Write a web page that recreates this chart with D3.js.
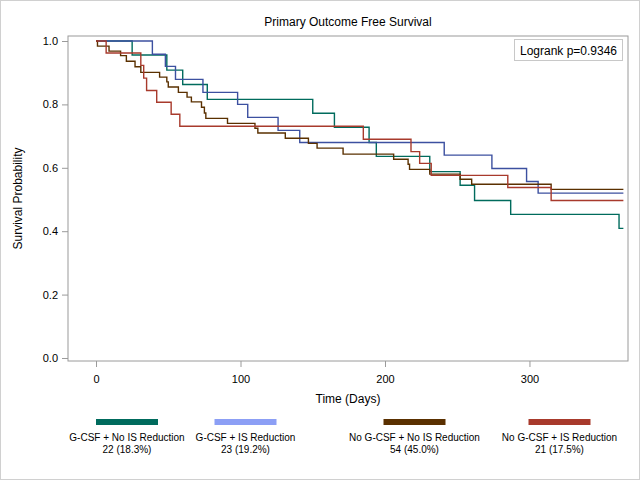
<!DOCTYPE html>
<html>
<head>
<meta charset="utf-8">
<script src="https://cdn.jsdelivr.net/npm/d3@7/dist/d3.min.js"></script>
<style>
  body { margin: 0; background: #fff; }
  text { font-family: "Liberation Sans", Arial, sans-serif; fill: #000; }
</style>
</head>
<body>
<div id="vis"></div>
<script>
var width = 640, height = 480;

// group names, counts (legend)
var groupNames = ["G-CSF + No IS Reduction", "G-CSF + IS Reduction", "No G-CSF + No IS Reduction", "No G-CSF + IS Reduction"];
var groupCounts = ["22 (18.3%)", "23 (19.2%)", "54 (45.0%)", "21 (17.5%)"];
var lineColors = ["#006b5d", "#3c50a0", "#5a3000", "#a83a2c"];
var swatchColors = ["#006b5d", "#8c9ff5", "#5a3000", "#a83a2c"];

// step times (days) and survival after each step
var gNoIsDays = [25, 49, 60, 77, 150, 165, 189, 194, 231, 252, 262, 287, 362];
var gNoIsSurv = [0.956, 0.908, 0.863, 0.816, 0.772, 0.728, 0.680, 0.636, 0.588, 0.545, 0.497, 0.453, 0.409];

var gIsDays = [39, 48, 55, 74, 98, 105, 126, 141, 241, 274, 298, 306];
var gIsSurv = [0.958, 0.920, 0.879, 0.838, 0.800, 0.759, 0.718, 0.680, 0.640, 0.598, 0.557, 0.520];

var noGNoIsDays = [1, 9, 17, 21, 27, 31, 44, 49, 50, 57, 63, 66, 73, 75, 76, 91, 110, 112, 131, 147, 153, 171, 206, 216, 217, 231, 252, 260, 315];
var noGNoIsSurv = [0.984, 0.968, 0.954, 0.936, 0.919, 0.901, 0.886, 0.871, 0.855, 0.838, 0.823, 0.808, 0.791, 0.773, 0.756, 0.740, 0.725, 0.710, 0.693, 0.677, 0.662, 0.643, 0.627, 0.611, 0.595, 0.580, 0.564, 0.548, 0.532];

var noGIsDays = [7, 31, 33, 35, 42, 52, 58, 185, 218, 224, 232, 285, 315];
var noGIsSurv = [0.962, 0.923, 0.883, 0.844, 0.807, 0.769, 0.731, 0.690, 0.651, 0.614, 0.576, 0.538, 0.497];

var lastDay = 365;
var xTicks = [0, 100, 200, 300];
var yTicks = [0, 0.2, 0.4, 0.6, 0.8, 1.0];

var seriesDays = [gNoIsDays, gIsDays, noGNoIsDays, noGIsDays];
var seriesSurv = [gNoIsSurv, gIsSurv, noGNoIsSurv, noGIsSurv];

var svg = d3.select("#vis").append("svg")
  .attr("width", width)
  .attr("height", height);

// outer border
svg.append("rect")
  .attr("x", 0.5).attr("y", 0.5)
  .attr("width", width - 1).attr("height", height - 1)
  .style("fill", "#fff")
  .style("stroke", "#d0d0d0");

var plotL = 68, plotR = 628, plotT = 36, plotB = 361;

var x = d3.scaleLinear().domain([-19.4, 368.2]).range([plotL, plotR]);
var y = d3.scaleLinear().domain([-0.0095, 1.0158]).range([plotB, plotT]);

// axes
var xAxis = svg.append("g")
  .attr("transform", "translate(0," + plotB + ")")
  .call(d3.axisBottom(x).tickValues(xTicks).tickSize(6).tickPadding(8).tickFormat(d3.format("d")));
var yAxis = svg.append("g")
  .attr("transform", "translate(" + plotL + ",0)")
  .call(d3.axisLeft(y).tickValues(yTicks).tickSize(6).tickPadding(4).tickFormat(d3.format(".1f")));

[xAxis, yAxis].forEach(function(a) {
  a.select(".domain").remove();
  a.selectAll(".tick line").style("stroke", "#9a9a9a");
  a.selectAll(".tick text")
    .style("font-family", "'Liberation Sans', Arial, sans-serif")
    .style("font-size", "11px")
    .style("fill", "#000");
});

// plot frame
svg.append("rect")
  .attr("x", plotL).attr("y", plotT)
  .attr("width", plotR - plotL).attr("height", plotB - plotT)
  .style("fill", "none")
  .style("stroke", "#9a9a9a");

// curves
var line = d3.line()
  .x(d => x(d[0]))
  .y(d => y(d[1]))
  .curve(d3.curveStepAfter);

seriesDays.forEach(function(days, i) {
  var pts = [[0, 1]];
  days.forEach(function(t, j) { pts.push([t, seriesSurv[i][j]]); });
  pts.push([lastDay, seriesSurv[i][seriesSurv[i].length - 1]]);
  svg.append("path")
    .datum(pts)
    .attr("d", line)
    .style("fill", "none")
    .style("stroke", lineColors[i])
    .style("stroke-width", 1.4);
});

// title and axis labels
svg.append("text")
  .attr("x", (plotL + plotR) / 2).attr("y", 26)
  .attr("text-anchor", "middle")
  .style("font-size", "12px")
  .text("Primary Outcome Free Survival");

svg.append("text")
  .attr("x", (plotL + plotR) / 2).attr("y", 403)
  .attr("text-anchor", "middle")
  .style("font-size", "12px")
  .text("Time (Days)");

svg.append("text")
  .attr("transform", "translate(22," + ((plotT + plotB) / 2) + ") rotate(-90)")
  .attr("text-anchor", "middle")
  .style("font-size", "12px")
  .text("Survival Probability");

// logrank box
svg.append("rect")
  .attr("x", 514.5).attr("y", 39.5)
  .attr("width", 108).attr("height", 21)
  .style("fill", "#fff")
  .style("stroke", "#c8c8c8");
svg.append("text")
  .attr("x", 568.5).attr("y", 54.5)
  .attr("text-anchor", "middle")
  .style("font-size", "12px")
  .text("Logrank p=0.9346");

// legend
var legendCx = [127, 245.5, 414.5, 559.5];
groupNames.forEach(function(name, i) {
  svg.append("rect")
    .attr("x", legendCx[i] - 31).attr("y", 419)
    .attr("width", 62).attr("height", 6)
    .style("fill", swatchColors[i]);
  svg.append("text")
    .attr("x", legendCx[i]).attr("y", 441)
    .attr("text-anchor", "middle")
    .style("font-size", "10px")
    .text(name);
  svg.append("text")
    .attr("x", legendCx[i]).attr("y", 453)
    .attr("text-anchor", "middle")
    .style("font-size", "10px")
    .text(groupCounts[i]);
});
</script>
</body>
</html>
